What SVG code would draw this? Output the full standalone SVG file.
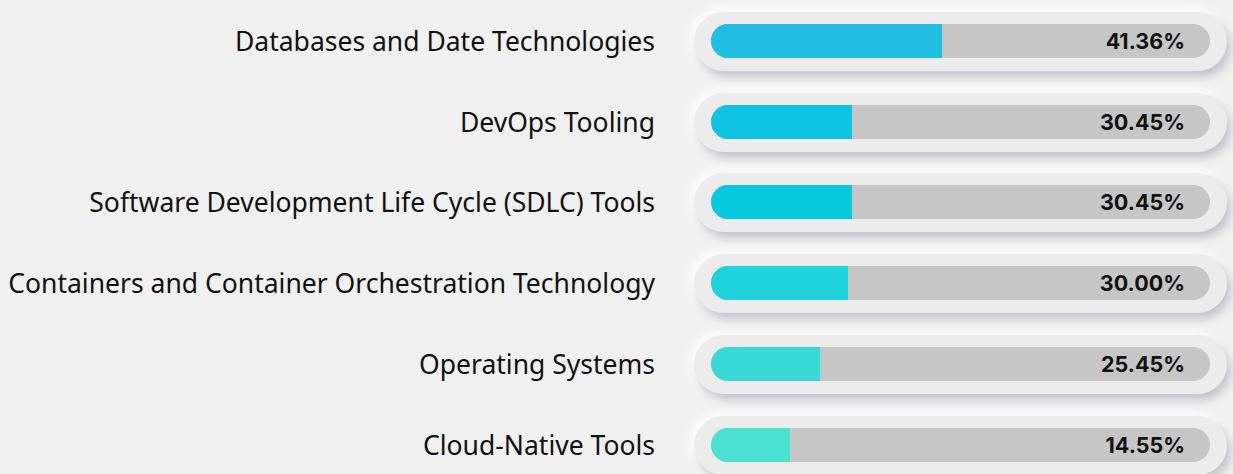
<svg xmlns="http://www.w3.org/2000/svg" width="1233" height="474" viewBox="0 0 1233 474">
<defs>
<filter id="neu" x="-10%" y="-40%" width="120%" height="180%">
<feDropShadow dx="4" dy="6" stdDeviation="4" flood-color="#b4b4c2" flood-opacity="0.8"/>
<feDropShadow dx="-4" dy="-4" stdDeviation="4" flood-color="#ffffff" flood-opacity="0.9"/>
</filter>
</defs>
<style>
.lbl{font-family:"Noto Sans","Liberation Sans",sans-serif;font-size:26.5px;fill:#111;text-anchor:end}
.pct{font-family:Inter,"Liberation Sans",sans-serif;font-size:21.5px;font-weight:700;fill:#111;text-anchor:end}
.pill{fill:#ececec}
.track{fill:#c6c6c6}
</style>
<rect width="1233" height="474" fill="#f0f0f0"/>
<g id="row1">
<text class="lbl" x="655" y="51">Databases and Date Technologies</text>
<rect class="pill" x="694" y="12" width="533" height="59" rx="29.5" filter="url(#neu)"/>
<rect class="track" x="711" y="24" width="499" height="34" rx="17"/>
<path d="M728 24H942V58H728A17 17 0 0 1 728 24Z" fill="#22bde3"/>
<text class="pct" x="1185" y="49">41.36%</text>
</g>
<g id="row2">
<text class="lbl" x="655" y="132">DevOps Tooling</text>
<rect class="pill" x="694" y="93" width="533" height="59" rx="29.5" filter="url(#neu)"/>
<rect class="track" x="711" y="105" width="499" height="34" rx="17"/>
<path d="M728 105H852V139H728A17 17 0 0 1 728 105Z" fill="#0fc3e2"/>
<text class="pct" x="1185" y="130">30.45%</text>
</g>
<g id="row3">
<text class="lbl" x="655" y="212">Software Development Life Cycle (SDLC) Tools</text>
<rect class="pill" x="694" y="173" width="533" height="59" rx="29.5" filter="url(#neu)"/>
<rect class="track" x="711" y="185" width="499" height="34" rx="17"/>
<path d="M728 185H852V219H728A17 17 0 0 1 728 185Z" fill="#07c9e0"/>
<text class="pct" x="1185" y="210">30.45%</text>
</g>
<g id="row4">
<text class="lbl" x="655" y="293">Containers and Container Orchestration Technology</text>
<rect class="pill" x="694" y="254" width="533" height="59" rx="29.5" filter="url(#neu)"/>
<rect class="track" x="711" y="266" width="499" height="34" rx="17"/>
<path d="M728 266H848V300H728A17 17 0 0 1 728 266Z" fill="#1fd3dc"/>
<text class="pct" x="1185" y="291">30.00%</text>
</g>
<g id="row5">
<text class="lbl" x="655" y="374">Operating Systems</text>
<rect class="pill" x="694" y="335" width="533" height="59" rx="29.5" filter="url(#neu)"/>
<rect class="track" x="711" y="347" width="499" height="34" rx="17"/>
<path d="M728 347H820V381H728A17 17 0 0 1 728 347Z" fill="#38d9d6"/>
<text class="pct" x="1185" y="372">25.45%</text>
</g>
<g id="row6">
<text class="lbl" x="655" y="455">Cloud-Native Tools</text>
<rect class="pill" x="694" y="416" width="533" height="59" rx="29.5" filter="url(#neu)"/>
<rect class="track" x="711" y="428" width="499" height="34" rx="17"/>
<path d="M728 428H790V462H728A17 17 0 0 1 728 428Z" fill="#4ae1d0"/>
<text class="pct" x="1185" y="453">14.55%</text>
</g>
<g id="connectors"/>
</svg>
